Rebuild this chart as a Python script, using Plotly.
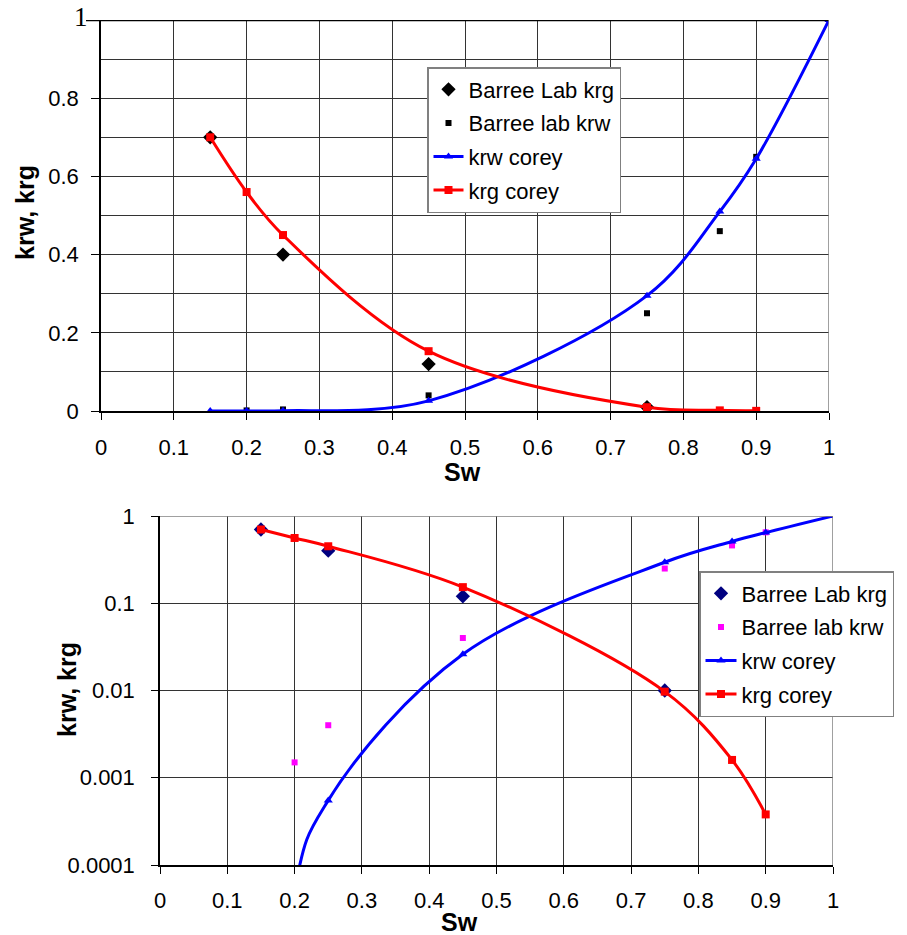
import plotly.graph_objects as go

# ---- data ----
sw_lab_krg = [0.15, 0.25, 0.45, 0.75]
krg_lab = [0.70, 0.40, 0.12, 0.010]

sw_lab_krw = [0.20, 0.25, 0.45, 0.75, 0.85, 0.90]
krw_lab = [0.0015, 0.004, 0.04, 0.25, 0.46, 0.65]

sw_krw_corey = [0.15, 0.20, 0.25, 0.45, 0.75, 0.85, 0.90, 1.00]
krw_corey = [0.0, 0.00005, 0.00055, 0.026, 0.295, 0.51, 0.645, 1.0]

sw_krg_corey = [0.15, 0.20, 0.25, 0.45, 0.75, 0.85, 0.90]
krg_corey = [0.70, 0.56, 0.45, 0.153, 0.0097, 0.0016, 0.00038]

x_ticks = [0, 0.1, 0.2, 0.3, 0.4, 0.5, 0.6, 0.7, 0.8, 0.9, 1]
x_ticktext = ["0", "0.1", "0.2", "0.3", "0.4", "0.5", "0.6", "0.7", "0.8", "0.9", "1"]
y_lin_ticks = [0, 0.2, 0.4, 0.6, 0.8, 1]
y_lin_ticktext = ["0", "0.2", "0.4", "0.6", "0.8", ""]   # "1" drawn in serif below
y_lin_top_label = "1"
y_log_ticks = [0.0001, 0.001, 0.01, 0.1, 1]
y_log_ticktext = ["0.0001", "0.001", "0.01", "0.1", "1"]

W, H = 907, 935
FONT = "Liberation Sans, Arial, sans-serif"
GRID = "#333333"


def px(x):
    return x / W


def py(y):
    return 1 - y / H


fig = go.Figure()

# ---------- top (linear) chart ----------
fig.add_trace(go.Scatter(x=sw_lab_krg, y=krg_lab, mode="markers", name="Barree Lab krg",
                         marker=dict(symbol="diamond", size=11, color="black"),
                         xaxis="x", yaxis="y", legend="legend", legendgroup="a"))
fig.add_trace(go.Scatter(x=sw_lab_krw, y=krw_lab, mode="markers", name="Barree lab krw",
                         marker=dict(symbol="square", size=6, color="black"),
                         xaxis="x", yaxis="y", legend="legend", legendgroup="b"))
fig.add_trace(go.Scatter(x=sw_krw_corey, y=krw_corey, mode="lines+markers", name="krw corey",
                         line=dict(color="#0000FF", width=3, shape="spline", smoothing=1),
                         marker=dict(symbol="triangle-up", size=8, color="#0000FF"),
                         xaxis="x", yaxis="y", legend="legend", legendgroup="c"))
fig.add_trace(go.Scatter(x=sw_krg_corey, y=krg_corey, mode="lines+markers", name="krg corey",
                         line=dict(color="#FF0000", width=3, shape="spline", smoothing=1),
                         marker=dict(symbol="square", size=8, color="#FF0000"),
                         xaxis="x", yaxis="y", legend="legend", legendgroup="d"))

# ---------- bottom (log) chart ----------
fig.add_trace(go.Scatter(x=sw_lab_krg, y=krg_lab, mode="markers", name="Barree Lab krg",
                         marker=dict(symbol="diamond", size=11, color="#000080"),
                         xaxis="x2", yaxis="y2", legend="legend2", legendgroup="e"))
fig.add_trace(go.Scatter(x=sw_lab_krw, y=krw_lab, mode="markers", name="Barree lab krw",
                         marker=dict(symbol="square", size=6, color="#FF00FF"),
                         xaxis="x2", yaxis="y2", legend="legend2", legendgroup="f"))
fig.add_trace(go.Scatter(x=sw_krw_corey, y=krw_corey, mode="lines+markers", name="krw corey",
                         line=dict(color="#0000FF", width=3, shape="spline", smoothing=1),
                         marker=dict(symbol="triangle-up", size=8, color="#0000FF"),
                         xaxis="x2", yaxis="y2", legend="legend2", legendgroup="g"))
fig.add_trace(go.Scatter(x=sw_krg_corey, y=krg_corey, mode="lines+markers", name="krg corey",
                         line=dict(color="#FF0000", width=3, shape="spline", smoothing=1),
                         marker=dict(symbol="square", size=8, color="#FF0000"),
                         xaxis="x2", yaxis="y2", legend="legend2", legendgroup="h"))

tickfont = dict(family=FONT, size=22, color="black")

x_common = dict(range=[0, 1], tickvals=x_ticks, ticktext=x_ticktext, showgrid=True,
                gridcolor=GRID, gridwidth=1, showline=True, linecolor="black", linewidth=1.5,
                ticks="outside", ticklen=7, tickcolor="black", tickfont=tickfont,
                zeroline=False, automargin=False)

fig.update_layout(
    template="none",
    width=W, height=H,
    margin=dict(l=0, r=0, t=0, b=0, autoexpand=False),
    paper_bgcolor="white", plot_bgcolor="white",
    font=dict(family=FONT, color="black"),
    xaxis=dict(domain=[px(101), px(829)], anchor="y", ticklabelstandoff=9, **x_common),
    yaxis=dict(domain=[py(411), py(20)], anchor="x", range=[0, 1],
               tickvals=y_lin_ticks, ticktext=y_lin_ticktext,
               showgrid=True, gridcolor=GRID, gridwidth=1,
               minor=dict(dtick=0.1, showgrid=True, gridcolor=GRID, gridwidth=1, ticks=""),
               showline=True, linecolor="black", linewidth=1.5,
               ticks="outside", ticklen=8, tickcolor="black", tickfont=tickfont,
               zeroline=False, ticklabelstandoff=8, automargin=False),
    xaxis2=dict(domain=[px(160), px(833)], anchor="y2", ticklabelstandoff=8, **x_common),
    yaxis2=dict(domain=[py(865), py(516)], anchor="x2", type="log", range=[-4, 0],
                tickvals=y_log_ticks, ticktext=y_log_ticktext,
                showgrid=True, gridcolor=GRID, gridwidth=1,
                showline=True, linecolor="black", linewidth=1.5,
                ticks="outside", ticklen=7, tickcolor="black", tickfont=tickfont,
                zeroline=False, ticklabelstandoff=12, automargin=False),
    legend=dict(x=px(427), y=py(67), xanchor="left", yanchor="top",
                bgcolor="white", bordercolor="#808080", borderwidth=1.5,
                font=dict(family=FONT, size=22, color="black"),
                tracegroupgap=2, itemwidth=30),
    legend2=dict(x=px(699), y=py(571), xanchor="left", yanchor="top",
                 bgcolor="white", bordercolor="#808080", borderwidth=1.5,
                 font=dict(family=FONT, size=22, color="black"),
                 tracegroupgap=2, itemwidth=31),
    showlegend=True,
)

# borders
fig.add_shape(type="line", xref="paper", yref="y", x0=px(86), x1=px(829), y0=1, y1=1,
              line=dict(color="black", width=2.5))
fig.add_shape(type="line", xref="x", yref="y", x0=1, x1=1, y0=0, y1=1,
              line=dict(color="#808080", width=1.5))
fig.add_shape(type="line", xref="x2", yref="y2", x0=0, x1=1, y0=1, y1=1,
              line=dict(color="#808080", width=1.5))
fig.add_shape(type="line", xref="x2", yref="y2", x0=1, x1=1, y0=0.0001, y1=1,
              line=dict(color="#808080", width=1.5))

# serif "1" at top of the linear chart
fig.add_annotation(text=y_lin_top_label, xref="paper", yref="paper", x=px(81), y=py(17),
                   xanchor="center", yanchor="middle", showarrow=False,
                   font=dict(family="Liberation Serif, Times New Roman, serif", size=27,
                             color="black"))

# axis titles
title_font = dict(family=FONT, size=25, color="black")
fig.add_annotation(text="<b>krw, krg</b>", xref="paper", yref="paper", x=px(25), y=py(213),
                   xanchor="center", yanchor="middle",
                   textangle=-90, showarrow=False, font=title_font)
fig.add_annotation(text="<b>Sw</b>", xref="paper", yref="paper", x=px(462), y=py(472),
                   xanchor="center", yanchor="middle", showarrow=False, font=title_font)
fig.add_annotation(text="<b>krw, krg</b>", xref="paper", yref="paper", x=px(67), y=py(690),
                   xanchor="center", yanchor="middle",
                   textangle=-90, showarrow=False, font=title_font)
fig.add_annotation(text="<b>Sw</b>", xref="paper", yref="paper", x=px(460), y=py(922),
                   xanchor="center", yanchor="middle", showarrow=False, font=title_font)

fig.write_html("out.html")
